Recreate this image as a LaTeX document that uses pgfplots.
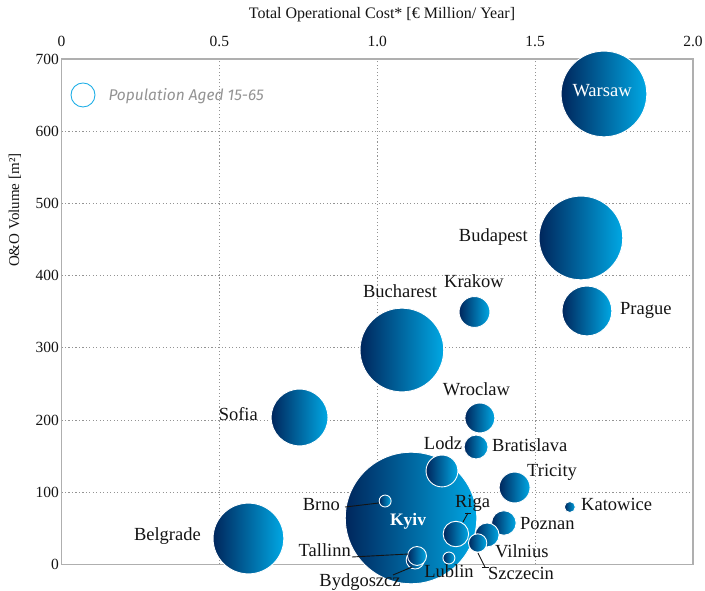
\documentclass[border=0pt]{standalone}
\usepackage{pgfplots}
\pgfplotsset{compat=1.18}
\usepackage{pgfplotstable}
\usepackage{fontspec}
\setmainfont{Liberation Serif}
\newfontfamily\legfont{Fira Sans}
\definecolor{bubL}{RGB}{0,38,92}
\definecolor{bubR}{RGB}{0,168,228}
\definecolor{legc}{RGB}{30,174,230}
\definecolor{txt}{RGB}{20,20,20}
\definecolor{framec}{RGB}{175,175,175}
\pgfdeclarehorizontalshading{bubbleshade}{100bp}{color(0bp)=(bubL); color(25bp)=(bubL); color(75bp)=(bubR); color(100bp)=(bubR)}
\pgfdeclareplotmark{bubble}{%
  \pgfpathcircle{\pgfpointorigin}{\pgfplotmarksize}%
  \pgfshadepath{bubbleshade}{0}%
  \pgfusepath{stroke}%
}
\newcommand\lab{\fontsize{18.5bp}{20bp}\selectfont}
\pgfplotstableread{
name x y r
Warsaw 1.718 651.6 43
Budapest 1.645 452.2 42
Prague 1.664 351.1 25
Krakow 1.308 349.7 15.5
Bucharest 1.078 297.0 42
Sofia 0.754 203.6 28.5
Wroclaw 1.325 202.9 15
Bratislava 1.313 162.7 12
Kyiv 1.107 64.4 66
Lodz 1.205 129.5 16
Tricity 1.435 106.6 15.5
Katowice 1.610 79.6 5.5
Belgrade 0.592 36.0 35.5
Brno 1.025 87.9 6
Poznan 1.401 57.5 12.3
Vilnius 1.348 40.9 12
Szczecin 1.318 29.8 9.2
Riga 1.249 42.2 12.8
Bydgoszcz 1.120 6.2 9
Tallinn 1.126 11.8 9.5
Lublin 1.227 9.0 6
}\bubbles
\begin{document}
\begin{tikzpicture}
\begin{axis}[
  set layers,
  at={(0,0)}, anchor=south west,
  scale only axis, width=631.5bp, height=505.5bp,
  xmin=0, xmax=2, ymin=0, ymax=700,
  clip=false,
  axis line style={draw=framec, line width=1.6pt},
  tick style={draw=none},
  xtick={0,0.5,1,1.5,2}, xticklabels={0,0.5,1.0,1.5,2.0},
  ytick={0,100,...,700},
  xticklabel pos=right,
  grid=major,
  major grid style={draw=gray!85, line width=1.1pt, dash pattern=on 1.1pt off 2.4pt},
  /pgf/number format/assume math mode=true,
  ticklabel style={font=\fontsize{15.5bp}{16bp}\selectfont, text=txt},
  xticklabel style={yshift=9bp},
  yticklabel style={xshift=1bp},
]
\addplot[scatter, only marks, mark=bubble,
  scatter/use mapped color={draw=white},
  mark options={line width=0.9pt},
  visualization depends on={\thisrow{r} \as \rr},
  scatter/@pre marker code/.append style={/tikz/mark size=\rr pt}]
  table[x=x, y=y] {\bubbles};

\begin{pgfonlayer}{axis foreground}
% legend
\node[circle, draw=legc, line width=0.9pt, minimum size=24bp, inner sep=0pt] at (axis cs:0.0681,650.2) {};
\node[anchor=west, text=gray!85, font=\legfont\itshape\fontsize{15.5bp}{17bp}\selectfont] at (axis cs:0.1378,648.5) {Population Aged 15-65};

% titles
\node[font=\fontsize{16bp}{18bp}\selectfont, text=txt] at (axis description cs:0.5075,1.088) {Total Operational Cost* [€ Million/ Year]};
\node[rotate=90, font=\fontsize{15bp}{17bp}\selectfont, text=txt] at (axis description cs:-0.0736,0.701) {O\&O Volume [m²]};

% labels
\begin{scope}[every node/.style={font=\lab, text=txt, inner sep=1pt, text height=0.66em, text depth=0pt}]
\node[text=white] at (axis cs:1.712,652.9) {Warsaw};
\node[anchor=east] at (axis cs:1.4806,452.2) {Budapest};
\node[anchor=west] at (axis cs:1.7656,351.1) {Prague};
\node at (axis cs:1.3064,388.5) {Krakow};
\node at (axis cs:1.072,374.6) {Bucharest};
\node[anchor=east] at (axis cs:0.6255,204.3) {Sofia};
\node at (axis cs:1.3143,238.9) {Wroclaw};
\node at (axis cs:1.2082,164.1) {Lodz};
\node[anchor=west] at (axis cs:1.3603,161.3) {Bratislava};
\node[anchor=west] at (axis cs:1.4711,126.7) {Tricity};
\node[anchor=west] at (axis cs:1.6421,79.6) {Katowice};
\node[anchor=east] at (axis cs:0.445,38.1) {Belgrade};
\node[text=white, font=\fontsize{17.5bp}{19bp}\selectfont\bfseries] at (axis cs:1.0974,58.9) {Kyiv};
\node[anchor=east] at (axis cs:0.8852,79.6) {Brno};
\node at (axis cs:1.3017,83.8) {Riga};
\node[anchor=west] at (axis cs:1.4489,53.3) {Poznan};
\node[anchor=west] at (axis cs:1.3697,14.5) {Vilnius};
\node[anchor=west] at (axis cs:1.3476,-15.9) {Szczecin};
\node[anchor=east] at (axis cs:0.920,15.9) {Tallinn};
\node at (axis cs:0.9454,-25.6) {Bydgoszcz};
\node at (axis cs:1.2272,-13.2) {Lublin};
\end{scope}
% leader lines
\begin{scope}[line width=0.9pt, draw=txt]
\draw (axis cs:0.8979,79.6) -- (axis cs:1.0055,85.2);
\draw (axis cs:0.920,10.4) -- (axis cs:1.0974,14.5);
\draw (axis cs:1.0499,-14.5) -- (axis cs:1.1101,-3.5);
\draw (axis cs:1.2716,58.9) -- (axis cs:1.2874,71.3);
\draw (axis cs:1.278,71.3) -- (axis cs:1.297,71.3);
\draw (axis cs:1.319,15.9) -- (axis cs:1.3412,-3.5);
\draw (axis cs:1.3317,-3.5) -- (axis cs:1.3539,-3.5);
\end{scope}
\end{pgfonlayer}
\end{axis}
\pgfresetboundingbox
\useasboundingbox (-61.5bp,-26.5bp) rectangle (643.5bp,564.5bp);
\end{tikzpicture}
\end{document}
